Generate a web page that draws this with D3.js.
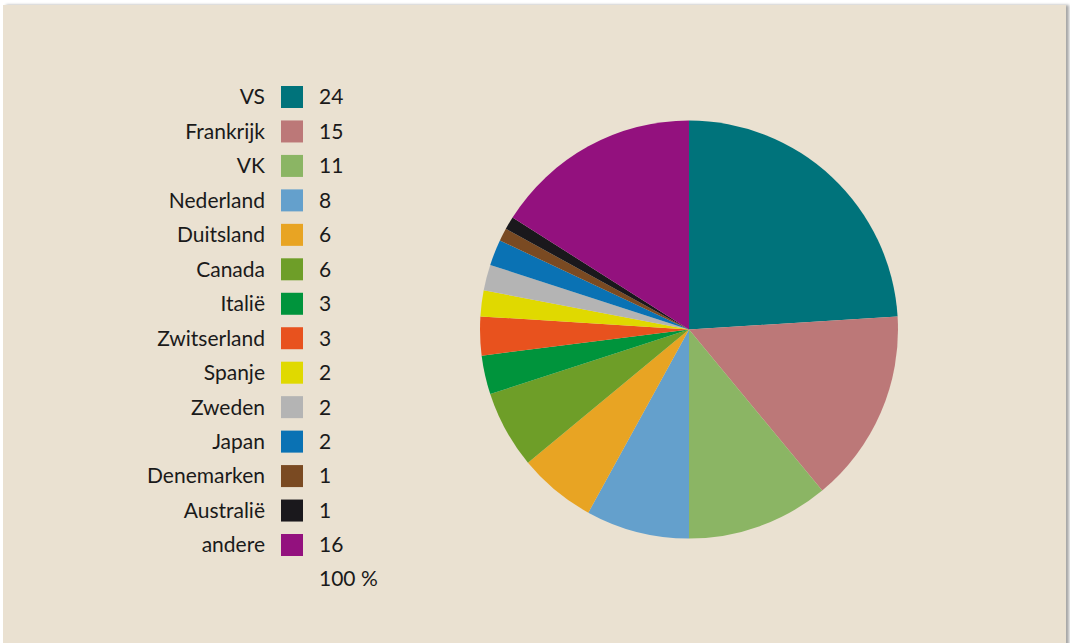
<!DOCTYPE html>
<html>
<head>
<meta charset="utf-8">
<script src="https://cdn.jsdelivr.net/npm/d3@7"></script>
<style>
  body { margin: 0; background: #fff; }
  svg { display: block; }
  text { font-family: Lato, "Open Sans", sans-serif; fill: #1a1a1a; }
</style>
</head>
<body>
<svg width="1070" height="643"></svg>
<script>
// data
let countries = ["VS", "Frankrijk", "VK", "Nederland", "Duitsland", "Canada", "Italië",
  "Zwitserland", "Spanje", "Zweden", "Japan", "Denemarken", "Australië", "andere"];
let shares = [24, 15, 11, 8, 6, 6, 3, 3, 2, 2, 2, 1, 1, 16];
let colors = ["#00737b", "#bc7878", "#8bb564", "#64a0cc", "#e8a423", "#6e9e28", "#00943c",
  "#e8521e", "#e0d900", "#b4b4b4", "#0a72b4", "#7a4a22", "#1a181c", "#93117e"];
let totalLabel = "100 %";

let svg = d3.select("svg");

// panel with a soft shadow
let defs = svg.append("defs");
let f = defs.append("filter").attr("id", "shadow")
  .attr("x", "-5%").attr("y", "-5%").attr("width", "110%").attr("height", "110%");
f.append("feDropShadow").attr("dx", 3).attr("dy", 0).attr("stdDeviation", 1.5)
  .attr("flood-color", "#000").attr("flood-opacity", 0.35);

svg.append("rect")
  .attr("x", 3).attr("y", 5)
  .attr("width", 1063).attr("height", 660)
  .attr("fill", "#eae1d1")
  .attr("filter", "url(#shadow)");

// Pie
let cx = 689, cy = 329.5, r = 209;
let color = d3.scaleOrdinal().domain(countries).range(colors);

let pie = d3.pie().sort(null).value(d => d.value);
let arc = d3.arc().innerRadius(0).outerRadius(r);
let rows = countries.map((c, i) => ({ name: c, value: shares[i] }));

svg.append("g")
  .attr("transform", "translate(" + cx + "," + cy + ")")
  .selectAll("path")
  .data(pie(rows))
  .enter()
  .append("path")
  .attr("d", arc)
  .attr("fill", d => color(d.data.name));

// Legend
let y = d3.scalePoint().domain(countries).range([97, 545]);

let legend = svg.append("g");
let item = legend.selectAll("g")
  .data(rows)
  .enter()
  .append("g")
  .attr("transform", d => "translate(0," + y(d.name) + ")");

item.append("text")
  .attr("x", 265)
  .attr("dy", "0.35em")
  .attr("text-anchor", "end")
  .style("font-size", "21px")
  .text(d => d.name);

item.append("rect")
  .attr("x", 281).attr("y", -11)
  .attr("width", 22).attr("height", 22)
  .attr("fill", d => color(d.name));

item.append("text")
  .attr("x", 319)
  .attr("dy", "0.35em")
  .style("font-size", "21px")
  .text(d => d.value);

legend.append("text")
  .attr("x", 319)
  .attr("y", 579)
  .attr("dy", "0.35em")
  .style("font-size", "21px")
  .text(totalLabel);
</script>
</body>
</html>
